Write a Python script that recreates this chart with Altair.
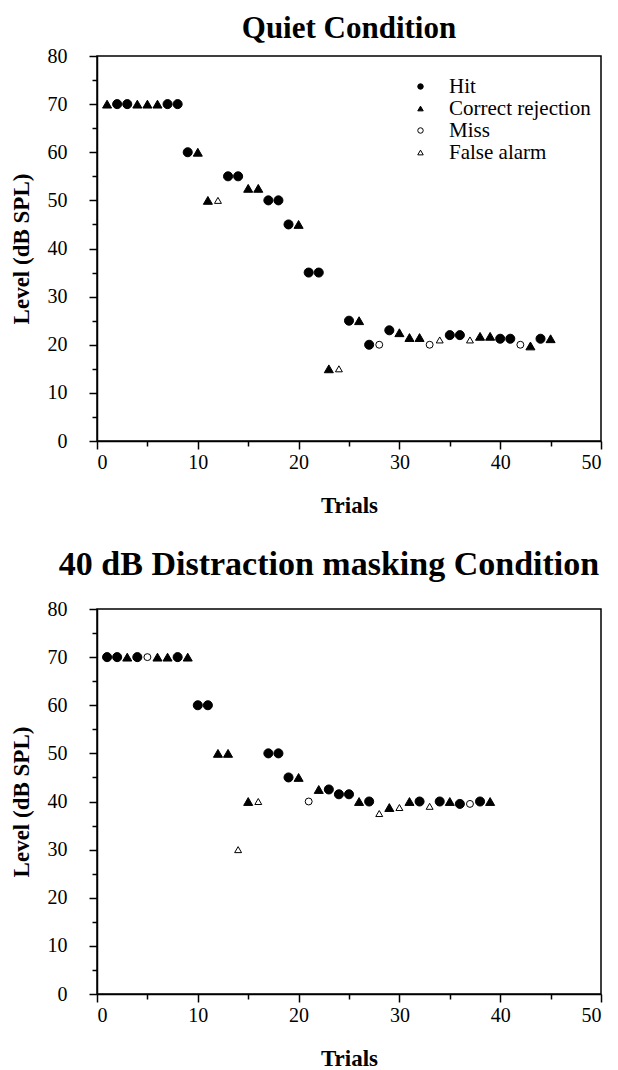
import altair as alt
import pandas as pd

H, C, M, F = "Hit", "Correct rejection", "Miss", "False alarm"
TYPES = [H, C, M, F]

# Quiet condition
quiet_trials = list(range(1, 46))
quiet_levels = [70, 70, 70, 70, 70, 70, 70, 70,
                60, 60, 50, 50, 55, 55, 52.5, 52.5, 50, 50, 45, 45,
                35, 35, 15, 15, 25, 25, 20, 20, 23, 22.5,
                21.5, 21.5, 20, 21, 22, 22, 21, 21.75, 21.75, 21.25,
                21.25, 20, 19.75, 21.25, 21.25]
quiet_types = [C, H, H, C, C, C, H, H,
               H, C, C, F, H, H, C, C, H, H, H, C,
               H, H, C, F, H, C, H, M, H, C,
               C, C, M, F, H, H, F, C, C, H,
               H, M, C, H, C]

# 40 dB distraction masking condition
mask_trials = list(range(1, 40))
mask_levels = [70, 70, 70, 70, 70, 70, 70, 70, 70,
               60, 60, 50, 50, 30, 40, 40, 50, 50, 45, 45,
               40, 42.5, 42.5, 41.5, 41.5, 40, 40, 37.5, 38.75, 38.75,
               40, 40, 39, 40, 40, 39.5, 39.5, 40, 40]
mask_types = [H, H, C, H, M, C, C, H, C,
              H, H, C, C, F, C, F, H, H, H, C,
              M, C, H, H, H, C, H, F, C, F,
              C, H, F, H, C, H, M, H, C]

x_ticks = list(range(0, 51, 5))
y_ticks = list(range(0, 81, 5))

FONT = "Liberation Serif"

quiet_df = pd.DataFrame({"trial": quiet_trials, "level": quiet_levels, "type": quiet_types})
mask_df = pd.DataFrame({"trial": mask_trials, "level": mask_levels, "type": mask_types})

shape_scale = alt.Scale(domain=TYPES, range=["circle", "triangle-up", "circle", "triangle-up"])
fill_scale = alt.Scale(domain=TYPES, range=["black", "black", "white", "white"])
stroke_scale = alt.Scale(domain=TYPES, range=["black", "black", "black", "black"])
size_scale = alt.Scale(domain=["filled", "open"], range=[82, 48])

LEGEND = alt.Legend(
    title=None, orient="none", legendX=313, legendY=20,
    labelFont=FONT, labelFontSize=21, labelColor="black",
    symbolSize=30, symbolStrokeWidth=1,
    rowPadding=0, labelOffset=18, padding=0,
)


def x_axis():
    return alt.Axis(
        values=x_ticks,
        labelExpr="datum.value % 10 === 0 ? datum.label : ''",
        tickSize={"condition": {"test": "datum.value % 10 === 0", "value": 8}, "value": 5},
        title="Trials",
        titlePadding=22,
        labelPadding=3,
        grid=False,
    )


def y_axis():
    return alt.Axis(
        values=y_ticks,
        labelExpr="datum.value % 10 === 0 ? datum.label : ''",
        tickSize={"condition": {"test": "datum.value % 10 === 0", "value": 8}, "value": 5},
        title="Level (dB SPL)",
        titlePadding=14,
        labelPadding=22,
        grid=False,
    )


def panel(df, title, title_size, title_offset, title_dx):
    return alt.Chart(df).transform_calculate(
        marker="(datum.type === 'Miss' || datum.type === 'False alarm') ? 'open' : 'filled'"
    ).mark_point(
        filled=True, strokeWidth=1, opacity=1
    ).encode(
        x=alt.X("trial:Q", scale=alt.Scale(domain=[0, 50], nice=False, zero=False), axis=x_axis()),
        y=alt.Y("level:Q", scale=alt.Scale(domain=[0, 80], nice=False), axis=y_axis()),
        shape=alt.Shape("type:N", scale=shape_scale, legend=LEGEND),
        fill=alt.Fill("type:N", scale=fill_scale, legend=LEGEND),
        stroke=alt.Stroke("type:N", scale=stroke_scale, legend=LEGEND),
        size=alt.Size("marker:N", scale=size_scale, legend=None),
    ).properties(
        width=504, height=385,
        title=alt.TitleParams(title, font=FONT, fontSize=title_size, fontWeight="bold",
                              color="black", anchor="middle", offset=title_offset,
                              dx=title_dx),
    )


top = panel(quiet_df, "Quiet Condition", 31, 1, 0)
bottom = panel(mask_df, "40 dB Distraction masking Condition", 34, 17, -20)

chart = alt.vconcat(top, bottom, spacing=29).configure_view(
    stroke="black", strokeWidth=1.5
).configure_axis(
    domainColor="black", domainWidth=1.5, tickColor="black", tickWidth=1.5,
    labelFont=FONT, labelFontSize=20, labelColor="black",
    titleFont=FONT, titleFontSize=23, titleFontWeight="bold", titleColor="black",
).properties(
    padding={"left": 1, "top": 4, "right": 0, "bottom": 0},
    background="white",
)

chart.save("out.html", embed_options={"renderer": "svg", "actions": False})
